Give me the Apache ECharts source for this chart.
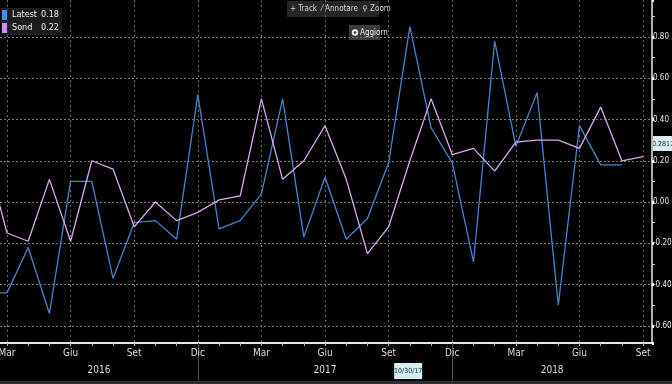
<!DOCTYPE html>
<html>
<head>
<meta charset="utf-8">
<script src="https://cdn.jsdelivr.net/npm/echarts@6/dist/echarts.min.js"></script>
<style>
html,body{margin:0;padding:0;background:#000;}
#c{width:672px;height:384px;}
</style>
</head>
<body>
<div id="c"></div>
<script>
// Month of each point, Feb 2016 .. Set 2018
const months = ['Feb','Mar','Apr','Mag','Giu','Lug','Ago','Set','Ott','Nov','Dic','Gen',
                'Feb','Mar','Apr','Mag','Giu','Lug','Ago','Set','Ott','Nov','Dic','Gen',
                'Feb','Mar','Apr','Mag','Giu','Lug','Ago','Set'];
const latest = [-0.44,-0.44,-0.22,-0.54,0.10,0.10,-0.37,-0.10,-0.09,-0.18,0.52,-0.13,
                -0.09,0.04,0.50,-0.17,0.12,-0.18,-0.08,0.19,0.85,0.36,0.19,-0.29,
                0.78,0.27,0.53,-0.50,0.37,0.18,0.18,null];
const sond   = [0.24,-0.15,-0.19,0.11,-0.19,0.20,0.16,-0.12,0.00,-0.09,-0.05,0.01,
                0.03,0.50,0.11,0.20,0.37,0.11,-0.25,-0.12,0.20,0.50,0.23,0.26,
                0.15,0.29,0.30,0.30,0.26,0.46,0.20,0.22];
const quarterIdx = [1,4,7,10,13,16,19,22,25,28,31];
const years = ['2016','2017','2018'];
const yearBreaks = [10,22];
const yTicks = ['-0.60','-0.40','-0.20','0.00','0.20','0.40','0.60','0.80'];

const FONT = "'Liberation Sans Narrow','DejaVu Sans Condensed','Liberation Sans',sans-serif";
const X_MIN = 0.67, X_MAX = 31.42;
const lastVal = a => { for (let i=a.length-1;i>=0;i--) if (a[i]!=null) return a[i]; return null; };
const toPairs = a => a.map((v,i)=>[i,v]);
const allIdx = months.map((m,i)=>i);
const yearCenters = [ (X_MIN+yearBreaks[0])/2, (yearBreaks[0]+yearBreaks[1])/2, (yearBreaks[1]+X_MAX)/2 ];

const BLUE = '#4a82cc', PINK = '#dba8ef';
const chart = echarts.init(document.getElementById('c'), null, {renderer:'canvas'});
chart.setOption({
  backgroundColor:'#000',
  animation:false,
  textStyle:{fontFamily:FONT},
  grid:{left:0,right:20,top:0,bottom:41,containLabel:false,outerBoundsMode:'none'},
  legend:{
    orient:'vertical',left:1,top:8,itemGap:3,itemWidth:5,itemHeight:10,icon:'rect',
    backgroundColor:'rgba(32,32,32,0.85)',padding:[2,3,2,1],
    data:[{name:'Latest',itemStyle:{color:'#3d8fe6'}},{name:'Sond',itemStyle:{color:'#d48cf2'}}],
    formatter: n => '{n|'+n+'}{v|'+(n==='Latest'?lastVal(latest):lastVal(sond)).toFixed(2)+'}',
    textStyle:{color:'#eee',fontSize:9,fontFamily:FONT,
      rich:{n:{width:29,color:'#eee',fontSize:9,fontFamily:FONT},v:{color:'#eee',fontSize:9,fontFamily:FONT}}}
  },
  xAxis:[
    {type:'value',min:X_MIN,max:X_MAX,position:'bottom',offset:0,
     axisLine:{show:true,onZero:false,lineStyle:{color:'#e8e8e8',width:2}},
     axisTick:{show:true,customValues:allIdx,length:3,lineStyle:{color:'#bbb'}},
     axisLabel:{show:true,customValues:quarterIdx,formatter:v=>months[Math.round(v)],
       color:'#ddd',fontSize:10,margin:5,fontFamily:FONT},
     splitLine:{show:false}},
    {type:'value',min:X_MIN,max:X_MAX,position:'bottom',offset:0,
     axisLine:{show:false,onZero:false},axisLabel:{show:false},
     axisTick:{show:false,customValues:quarterIdx},
     splitLine:{show:true,lineStyle:{color:'#6a6a6a',type:[2,3],width:1}}},
    {type:'value',min:X_MIN,max:X_MAX,position:'bottom',offset:0,
     axisLine:{show:false,onZero:false},
     axisTick:{show:true,customValues:yearBreaks,length:38,lineStyle:{color:'#4a4a4a'}},
     axisLabel:{show:true,customValues:yearCenters,
       formatter:v=>years[v<yearBreaks[0]?0:(v<yearBreaks[1]?1:2)],
       color:'#ddd',fontSize:10,margin:22,fontFamily:FONT},
     splitLine:{show:false}}
  ],
  yAxis:{
    type:'value',position:'right',min:-0.683,max:0.979,splitNumber:8,minInterval:0.2,maxInterval:0.2,
    axisLine:{show:true,onZero:false,lineStyle:{color:'#e8e8e8',width:1.5}},
    axisTick:{show:true,length:2,lineStyle:{color:'#fff',width:3}},
    minorTick:{show:true,splitNumber:2,length:3,lineStyle:{color:'#ccc'}},
    axisLabel:{show:true,margin:1,color:'#e6e6e6',fontSize:8,fontFamily:FONT,
      formatter:v=>{ const s=(Math.round(v*100)/100).toFixed(2); return yTicks.indexOf(s)<0?'':s; }},
    splitLine:{show:true,showMinLine:false,showMaxLine:false,lineStyle:{color:'#7a7a7a',type:[2,2],width:1}}
  },
  series:[
    {name:'Latest',type:'line',xAxisIndex:0,data:toPairs(latest),showSymbol:false,symbol:'none',
     lineStyle:{color:BLUE,width:1.3},itemStyle:{color:BLUE},connectNulls:false},
    {name:'Sond',type:'line',xAxisIndex:0,data:toPairs(sond),showSymbol:false,symbol:'none',
     lineStyle:{color:PINK,width:1.3},itemStyle:{color:PINK}}
  ],
  graphic:[
    {type:'rect',left:0,top:381,shape:{width:672,height:3},style:{fill:'#2e2e2e'},silent:true},
    {type:'group',left:287,top:1,children:[
      {type:'rect',shape:{x:0,y:0,width:92,height:16},style:{fill:'#262626'}},
      {type:'text',x:3,y:4,style:{text:'+ Track  ⁄ Annotare  ⚲ Zoom',fill:'#d8d8d8',fontSize:8,fontFamily:FONT}}
    ]},
    {type:'group',left:349,top:25,children:[
      {type:'rect',shape:{x:0,y:0,width:31,height:15},style:{fill:'#3a3a3a'}},
      {type:'circle',shape:{cx:6,cy:7.5,r:3.2},style:{fill:'#eee'}},
      {type:'circle',shape:{cx:6,cy:7.5,r:1.3},style:{fill:'#3a3a3a'}},
      {type:'text',x:11,y:4,style:{text:'Aggiorn',fill:'#eee',fontSize:8,fontFamily:FONT}}
    ]},
    {type:'group',left:652,top:136,children:[
      {type:'rect',shape:{x:0,y:0,width:20,height:15},style:{fill:'#d6eef0'}},
      {type:'text',x:10,y:8,style:{text:'0.2817',fill:'#0a2a30',fontSize:7,fontFamily:FONT,align:'center',verticalAlign:'middle'}}
    ]},
    {type:'group',left:394,top:363,children:[
      {type:'rect',shape:{x:0,y:0,width:28,height:16},style:{fill:'#d6eef0'}},
      {type:'text',x:14,y:8.5,style:{text:'10/30/17',fill:'#0a2a30',fontSize:7,fontFamily:FONT,align:'center',verticalAlign:'middle'}}
    ]}
  ]
});
</script>
</body>
</html>
